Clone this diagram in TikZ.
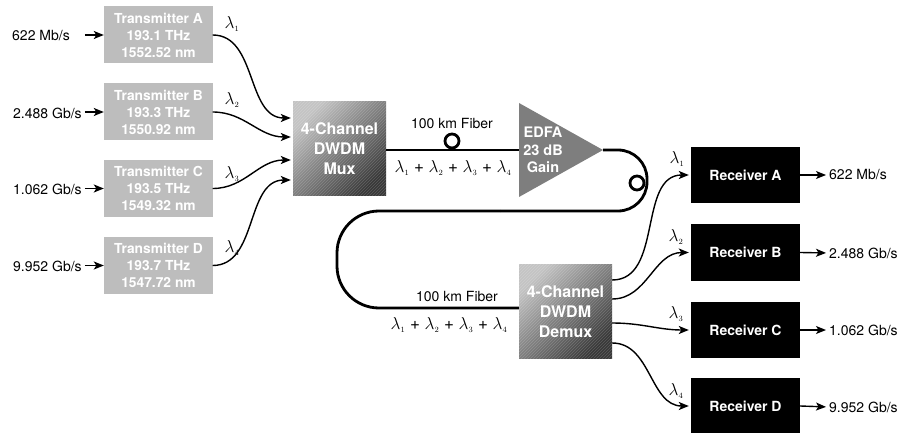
\documentclass[tikz,border=0pt]{standalone}
\usepackage{fontspec}
\setmainfont{TeX Gyre Heros}
\usetikzlibrary{arrows.meta,patterns}
\definecolor{txgray}{HTML}{BDBDBD}
\definecolor{edfagray}{HTML}{7E7E7E}
\definecolor{muxlight}{HTML}{C4C4C4}
\definecolor{muxdark}{HTML}{383838}
\newcommand{\lam}[1]{$\lambda_{\scriptscriptstyle #1}$}
\begin{document}
\begin{tikzpicture}[x=1pt,y=-1pt,
  arr/.style={-{Stealth[length=10pt,width=8pt,inset=2.5pt]},line width=1.4pt},
  fiber/.style={line width=2.8pt},
  txbox/.style={fill=txgray,text=white,font=\bfseries\fontsize{13.8}{17}\selectfont,align=center,minimum width=109pt,minimum height=57pt,inner sep=0pt},
  rxbox/.style={fill=black,text=white,font=\bfseries\fontsize{14}{17}\selectfont,align=center,minimum width=109pt,minimum height=56pt,inner sep=0pt},
  muxbox/.style={top color=muxlight,bottom color=muxdark,shading angle=45,text=white,font=\bfseries\fontsize{16}{20}\selectfont,align=center,minimum width=93pt,minimum height=94pt,inner sep=0pt},
  rate/.style={font=\fontsize{14}{16}\selectfont,inner sep=0pt},
  lbl/.style={font=\fontsize{16}{18}\selectfont,inner sep=0pt},
  sumlbl/.style={font=\fontsize{17}{19}\selectfont,inner sep=0pt},
  hatch/.style={pattern=north east lines,pattern color=white,opacity=0.18}
]
\useasboundingbox (0,0) rectangle (903,433);

% transmitters
\node[txbox] (tA) at (158.5,35) {Transmitter A\\193.1 THz\\1552.52 nm};
\node[txbox] (tB) at (158.5,112) {Transmitter B\\193.3 THz\\1550.92 nm};
\node[txbox] (tC) at (158.5,188.5) {Transmitter C\\193.5 THz\\1549.32 nm};
\node[txbox] (tD) at (158.5,265.5) {Transmitter D\\193.7 THz\\1547.72 nm};

% input rates
\node[rate,anchor=west] (iA) at (12,36) {622 Mb/s};
\node[rate,anchor=west] (iB) at (13,113) {2.488 Gb/s};
\node[rate,anchor=west] (iC) at (13,189) {1.062 Gb/s};
\node[rate,anchor=west] (iD) at (13,266) {9.952 Gb/s};
\foreach \t in {tA,tB,tC,tD}
  \draw[arr] ([xshift=-19pt]\t.west) -- (\t.west);

% mux
\node[muxbox] (mux) at (339.5,149) {4-Channel\\DWDM\\Mux};
\fill[hatch] (mux.south west) rectangle (mux.north east);

% transmitter to mux curves
\draw[arr] ([xshift=-0.5pt]tA.east) to[out=0,in=180] ([xshift=-2pt,yshift=31pt]mux.west);
\draw[arr] ([xshift=-0.5pt]tB.east) to[out=0,in=180] ([xshift=-2pt,yshift=12pt]mux.west);
\draw[arr] ([xshift=-0.5pt]tC.east) to[out=0,in=180] ([xshift=-2pt,yshift=-11pt]mux.west);
\draw[arr] ([xshift=-0.5pt]tD.east) to[out=0,in=180] ([xshift=-2pt,yshift=-31pt]mux.west);
\node[lbl] (l1) at (232,24) {\lam{1}};
\node[lbl] (l2) at (232,100) {\lam{2}};
\node[lbl] (l3) at (232,174) {\lam{3}};
\node[lbl] (l4) at (232,248) {\lam{4}};

% EDFA
\coordinate (edfaIn) at (519,150);
\coordinate (edfaOut) at (603,150);
\fill[edfagray] (519,103) -- (edfaOut) -- (519,197) -- cycle;
\node[text=white,font=\bfseries\fontsize{14.5}{17.5}\selectfont,align=center,inner sep=0pt] (edfa) at (543,150) {EDFA\\23 dB\\Gain};

% demux
\node[muxbox] (demux) at (565.5,311.5) {4-Channel\\DWDM\\Demux};
\fill[hatch] (demux.south west) rectangle (demux.north east);

% fiber
\draw[fiber] (mux.east |- edfaIn) -- (edfaIn);
\draw[fiber] (452,141) circle[radius=7];
\coordinate (fmid) at (500,211);
\draw[fiber,rounded corners=29pt] (edfaOut) -- (647,150) -- (647,211) -- (fmid);
\draw[fiber,rounded corners=42pt] (fmid) -- (337,211) -- (337,308) -- (demux.west |- 0,308);
\draw[fiber] (637,183) circle[radius=7];
\node[rate] (f1) at (452,124) {100 km Fiber};
\node[sumlbl] (s1) at (453,168) {\lam{1} + \lam{2} + \lam{3} + \lam{4}};
\node[rate] (f2) at (457,297) {100 km Fiber};
\node[sumlbl] (s2) at (449,325) {\lam{1} + \lam{2} + \lam{3} + \lam{4}};

% receivers
\node[rxbox] (rA) at (745.5,175) {Receiver A};
\node[rxbox] (rB) at (745.5,252.5) {Receiver B};
\node[rxbox] (rC) at (745.5,330) {Receiver C};
\node[rxbox] (rD) at (745.5,406) {Receiver D};

\draw[arr] ([yshift=31.5pt]demux.east) to[out=0,in=180] ([xshift=-2pt]rA.west);
\draw[arr] ([yshift=12.5pt]demux.east) to[out=0,in=180] ([xshift=-2pt]rB.west);
\draw[arr] ([yshift=-11.5pt]demux.east) to[out=0,in=180] ([xshift=-2pt]rC.west);
\draw[arr] ([yshift=-31.5pt]demux.east) to[out=0,in=180] ([xshift=-2pt]rD.west);
\node[lbl] (m1) at (677,159) {\lam{1}};
\node[lbl] (m2) at (676,237) {\lam{2}};
\node[lbl] (m3) at (676,314) {\lam{3}};
\node[lbl] (m4) at (676,391) {\lam{4}};

% outputs
\node[rate,anchor=west] (oA) at (829,175) {622 Mb/s};
\node[rate,anchor=west] (oB) at (829,253) {2.488 Gb/s};
\node[rate,anchor=west] (oC) at (829,330) {1.062 Gb/s};
\node[rate,anchor=west] (oD) at (829,407) {9.952 Gb/s};
\foreach \r/\o in {rA/oA,rB/oB,rC/oC,rD/oD}
  \draw[arr,shorten >=3pt] (\r.east) -- (\o.west);
\end{tikzpicture}
\end{document}
